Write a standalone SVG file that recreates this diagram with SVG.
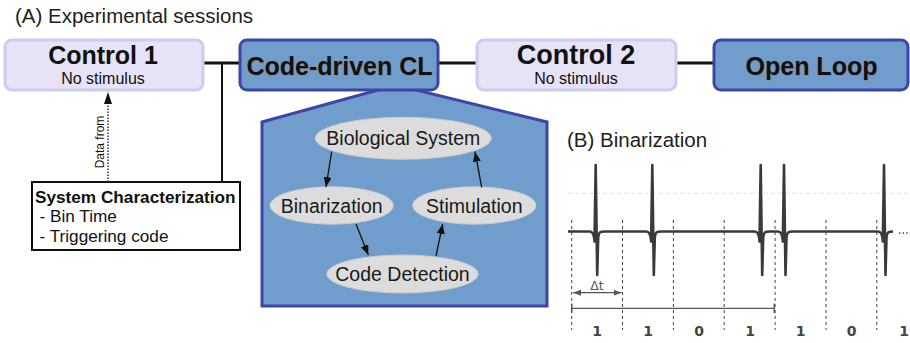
<svg xmlns="http://www.w3.org/2000/svg" width="910" height="343" viewBox="0 0 910 343">
  <style>
    .title { font-family: "Liberation Sans", Arial, sans-serif; font-size: 20.5px; fill: #222; }
    .ctrl { fill: #e5e3f5; stroke: #cdcbef; stroke-width: 3; }
    .cl { fill: #709dcc; stroke: #3e45a7; stroke-width: 3; }
    .head { font-family: "Liberation Sans", Arial, sans-serif; font-weight: bold; text-anchor: middle; fill: #111; }
    .shadow { fill: #8a8a8a; }
    .sub { font-family: "Liberation Sans", Arial, sans-serif; font-size: 16px; text-anchor: middle; fill: #111; }
    .oval { fill: #dcdcdc; stroke: #cbcbcb; stroke-width: 1; }
    .otext { font-family: "Liberation Sans", Arial, sans-serif; font-size: 19.5px; text-anchor: middle; fill: #1a1a1a; }
    .link { stroke: #111; stroke-width: 3; fill: none; }
    .flow { stroke: #111; stroke-width: 1.3; fill: none; marker-end: url(#tip); }
    .bin { stroke: #444; stroke-width: 1; stroke-dasharray: 3 3; }
    .digit { font-family: "DejaVu Sans", sans-serif; font-weight: bold; font-size: 14px; fill: #444; text-anchor: middle; }
  </style>
  <defs>
    <marker id="tip" viewBox="0 0 10 8" refX="10" refY="4" markerWidth="10" markerHeight="8" markerUnits="userSpaceOnUse" orient="auto">
      <path d="M0,0 L10,4 L0,8 Z" fill="#111"/>
    </marker>
    <marker id="dt" viewBox="0 0 8 6" refX="8" refY="3" markerWidth="8" markerHeight="6" markerUnits="userSpaceOnUse" orient="auto-start-reverse">
      <path d="M0,0 L8,3 L0,6 Z" fill="#555"/>
    </marker>
  </defs>

  <rect width="910" height="343" fill="#fff"/>

  <text class="title" x="15" y="23">(A) Experimental sessions</text>

  <!-- session timeline connectors -->
  <g id="connectors">
    <line class="link" x1="203" y1="63" x2="240" y2="63"/>
    <line class="link" x1="438" y1="63" x2="477" y2="63"/>
    <line class="link" x1="676" y1="63" x2="714" y2="63"/>
    <line x1="222" y1="63" x2="222" y2="182" stroke="#111" stroke-width="2"/>
    <line x1="108" y1="182" x2="108" y2="103" stroke="#111" stroke-width="1.3" stroke-dasharray="1.5 1.5"/>
    <path d="M108,92 L112,104 L104,104 Z" fill="#111"/>
    <text x="104" y="142" transform="rotate(-90 104 142)" font-family="Liberation Sans, Arial, sans-serif" font-size="12" text-anchor="middle" fill="#111">Data from</text>
  </g>

  <!-- expanded closed-loop panel -->
  <g id="loop-panel">
    <path class="cl" d="M262,122 L396,85 L547,122 L547,306 L262,306 Z"/>
  </g>

  <g id="control1">
    <rect class="ctrl" x="5" y="40" width="198" height="50" rx="7"/>
    <text class="head" x="103" y="64" font-size="25">Control 1</text>
    <text class="sub" x="103" y="84">No stimulus</text>
  </g>

  <g id="code-driven-cl">
    <rect class="cl" x="240" y="40" width="198" height="50" rx="7"/>
    <text class="head shadow" x="340.5" y="76" font-size="25">Code-driven CL</text>
    <text class="head" x="339.5" y="75" font-size="25">Code-driven CL</text>
  </g>

  <g id="control2">
    <rect class="ctrl" x="477" y="40" width="199" height="50" rx="7"/>
    <text class="head" x="576" y="64" font-size="27">Control 2</text>
    <text class="sub" x="576" y="84">No stimulus</text>
  </g>

  <g id="open-loop">
    <rect class="cl" x="714" y="40" width="194" height="50" rx="7"/>
    <text class="head shadow" x="812.5" y="76" font-size="25">Open Loop</text>
    <text class="head" x="811.5" y="75" font-size="25">Open Loop</text>
  </g>

  <g id="system-characterization">
    <rect x="32" y="182" width="208" height="68" fill="#fff" stroke="#111" stroke-width="2"/>
    <text x="35" y="203" font-family="Liberation Sans, Arial, sans-serif" font-weight="bold" font-size="17.2" fill="#111">System Characterization</text>
    <text x="39.5" y="221.5" font-family="Liberation Sans, Arial, sans-serif" font-size="17.2" fill="#111">- Bin Time</text>
    <text x="39.5" y="241.5" font-family="Liberation Sans, Arial, sans-serif" font-size="17.2" fill="#111">- Triggering code</text>
  </g>

  <g id="biological-system">
    <ellipse class="oval" cx="403.3" cy="138.3" rx="88" ry="21"/>
    <text class="otext" x="403.3" y="145">Biological System</text>
  </g>
  <g id="binarization">
    <ellipse class="oval" cx="331.7" cy="205.5" rx="61.7" ry="18.7"/>
    <text class="otext" x="331.7" y="212.5">Binarization</text>
  </g>
  <g id="stimulation">
    <ellipse class="oval" cx="474.3" cy="205.5" rx="61.7" ry="18.7"/>
    <text class="otext" x="474.3" y="212.5">Stimulation</text>
  </g>
  <g id="code-detection">
    <ellipse class="oval" cx="402.5" cy="274" rx="75.8" ry="19"/>
    <text class="otext" x="402.5" y="280.7">Code Detection</text>
  </g>

  <g id="loop-arrows">
    <line class="flow" x1="331.7" y1="151.7" x2="326" y2="187"/>
    <line class="flow" x1="356" y1="224" x2="368.3" y2="255"/>
    <line class="flow" x1="436" y1="256" x2="442.7" y2="224"/>
    <line class="flow" x1="481.7" y1="187.3" x2="475" y2="151.7"/>
  </g>

  <!-- (B) binarization of the recorded trace -->
  <text class="title" x="567" y="147.3">(B) Binarization</text>

  <g id="trace">
    <line x1="568" y1="193.3" x2="910" y2="193.3" stroke="#e2e2e2" stroke-width="1" stroke-dasharray="4 3"/>
    <g>
      <line class="bin" x1="571.7" y1="220" x2="571.7" y2="330"/>
      <line class="bin" x1="622.5" y1="220" x2="622.5" y2="330"/>
      <line class="bin" x1="673.4" y1="220" x2="673.4" y2="330"/>
      <line class="bin" x1="724.2" y1="220" x2="724.2" y2="330" stroke="#888"/>
      <line class="bin" x1="775.1" y1="220" x2="775.1" y2="330"/>
      <line class="bin" x1="826" y1="220" x2="826" y2="330"/>
      <line class="bin" x1="876.8" y1="220" x2="876.8" y2="330"/>
    </g>
    <path d="M568,231.5
             L589.7,231.5 C592.7,231.5 594.2,235.5 594.5,241.5 L595.7,165 L597.2,275 L598.2,237.5 C598.7,231.5 600.7,231.5 604.7,231.5
             L646.3,231.5 C649.3,231.5 650.8,235.5 651.1,241.5 L652.3,165 L653.8,275 L654.8,237.5 C655.3,231.5 657.3,231.5 661.3,231.5
             L754.7,231.5 C757.7,231.5 759.2,235.5 759.5,241.5 L760.7,165 L762.2,275 L763.2,237.5 C763.7,231.5 765.7,231.5 769.7,231.5
             L778,231.5 C781,231.5 782.5,235.5 782.8,241.5 L784,165 L785.5,275 L786.5,237.5 C787,231.5 789,231.5 793,231.5
             L878,231.5 C881,231.5 882.5,235.5 882.8,241.5 L884,165 L885.5,275 L886.5,237.5 C887,231.5 889,231.5 893,231.5"
          fill="none" stroke="#3a3a3a" stroke-width="2.6" stroke-linejoin="round"/>
    <line x1="899" y1="233" x2="910" y2="233" stroke="#444" stroke-width="1.4" stroke-dasharray="1.4 2.2"/>

    <line x1="573" y1="292.7" x2="621.5" y2="292.7" stroke="#555" stroke-width="1.2" marker-start="url(#dt)" marker-end="url(#dt)"/>
    <text x="597" y="290" font-family="DejaVu Sans, sans-serif" font-size="12.5" fill="#555" text-anchor="middle">Δt</text>

    <line x1="571.7" y1="308.3" x2="774.3" y2="308.3" stroke="#555" stroke-width="1.2"/>
    <line x1="571.7" y1="303.5" x2="571.7" y2="313" stroke="#555" stroke-width="1.5"/>
    <line x1="774.3" y1="303.5" x2="774.3" y2="313" stroke="#555" stroke-width="1.5"/>

    <text class="digit" x="597" y="336">1</text>
    <text class="digit" x="648" y="336">1</text>
    <text class="digit" x="699" y="336">0</text>
    <text class="digit" x="750" y="336">1</text>
    <text class="digit" x="800.5" y="336">1</text>
    <text class="digit" x="851.5" y="336">0</text>
    <text class="digit" x="904" y="336">1</text>
  </g>
</svg>
